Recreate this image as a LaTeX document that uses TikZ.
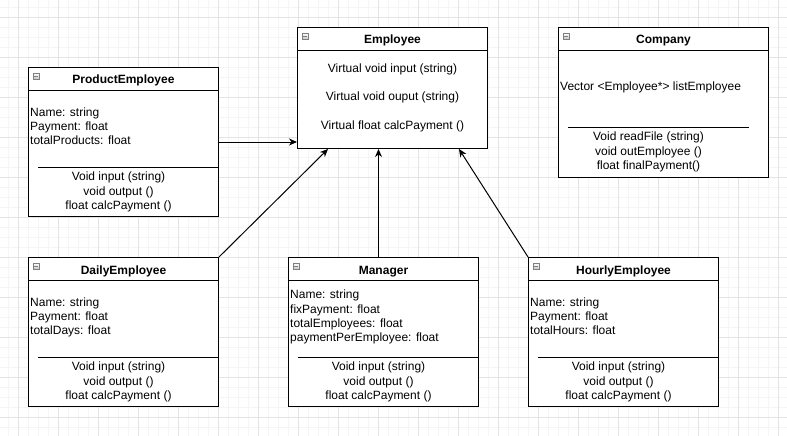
\documentclass[tikz,border=0pt]{standalone}
\usepackage{fontspec}
\setmainfont{Liberation Sans}
\usetikzlibrary{arrows.meta, positioning, calc}
\definecolor{gridminor}{RGB}{245,245,245}
\definecolor{gridmajor}{RGB}{228,228,228}
\definecolor{iconfill}{RGB}{200,200,200}

\begin{document}
\begin{tikzpicture}[
      x=1pt, y=-1pt,
      font=\fontsize{12}{14}\selectfont,
      classbox/.style={draw, line width=1pt, fill=white, anchor=north west,
        inner sep=0, minimum width=190pt, minimum height=149pt},
      classtitle/.style={font=\fontsize{12}{14}\selectfont\bfseries, inner sep=0,
        text height=9pt, text depth=3pt},
      member/.style={anchor=west, inner sep=0, text height=8pt, text depth=3pt},
      method/.style={inner sep=0, text height=8pt, text depth=3pt},
      minusicon/.style={draw=gray, line width=0.5pt, top color=white, bottom color=iconfill,
        minimum size=6pt, inner sep=0,
        path picture={\draw[line width=0.7pt] ([xshift=1.2pt]path picture bounding box.west)
          -- ([xshift=-1.2pt]path picture bounding box.east);}},
      rule/.style={line width=1pt},
      arrow/.style={-{Stealth[length=8pt, width=7pt, inset=2.5pt]}, line width=1pt}
    ]
      \useasboundingbox (0,0) rectangle (787,436);
      \fill[white] (0,0) rectangle (787,436);

      % Grid
      \foreach \gx in {8,18,...,787} \draw[gridminor, line width=0.6pt] (\gx,0) -- (\gx,436);
      \foreach \gy in {7,17,...,436} \draw[gridminor, line width=0.6pt] (0,\gy) -- (787,\gy);
      \foreach \gx in {18,58,...,787} \draw[gridmajor, line width=0.6pt] (\gx,0) -- (\gx,436);
      \foreach \gy in {17,57,...,436} \draw[gridmajor, line width=0.6pt] (0,\gy) -- (787,\gy);

      % Employee
      \node[classbox, minimum height=121pt] (employee) at (297,27) {};
      \node[minusicon] (employee-icon) at ([xshift=8pt, yshift=-9pt]employee.north west) {};
      \node[classtitle] (employee-title) at ([yshift=-14pt]employee.north) {Employee};
      \draw[rule] ([yshift=-24pt]employee.north west) -- ([yshift=-24pt]employee.north east);
      \node[method] (employee-m1) at ([yshift=-43pt]employee.north) {Virtual void input (string)};
      \node[method] (employee-m2) at ([yshift=-71pt]employee.north) {Virtual void ouput (string)};
      \node[method] (employee-m3) at ([yshift=-100pt]employee.north) {Virtual float calcPayment ()};

      % Company
      \node[classbox, minimum width=210pt, minimum height=150pt] (company) at (558,27) {};
      \node[minusicon] (company-icon) at ([xshift=8pt, yshift=-9pt]company.north west) {};
      \node[classtitle] (company-title) at ([yshift=-14pt]company.north) {Company};
      \draw[rule] ([yshift=-24pt]company.north west) -- ([yshift=-24pt]company.north east);
      \node[member] (company-a1) at ([xshift=2pt, yshift=-61pt]company.north west) {Vector <Employee*> listEmployee};
      \draw[rule] ([xshift=10pt, yshift=-100pt]company.north west) -- ([xshift=-20pt, yshift=-100pt]company.north east);
      \node[method] (company-m1) at ([xshift=-15pt, yshift=-111pt]company.north) {Void readFile (string)};
      \node[method] (company-m2) at ([xshift=-15pt, yshift=-126pt]company.north) {void outEmployee ()};
      \node[method] (company-m3) at ([xshift=-15pt, yshift=-140pt]company.north) {float finalPayment()};

      % ProductEmployee
      \node[classbox] (product) at (28,67) {};
      \node[minusicon] (product-icon) at ([xshift=8pt, yshift=-9pt]product.north west) {};
      \node[classtitle] (product-title) at ([yshift=-14pt]product.north) {ProductEmployee};
      \draw[rule] ([yshift=-23pt]product.north west) -- ([yshift=-23pt]product.north east);
      \node[member] (product-a1) at ([xshift=2pt, yshift=-47pt]product.north west) {Name: string};
      \node[member] (product-a2) at ([xshift=2pt, yshift=-61pt]product.north west) {Payment: float};
      \node[member] (product-a3) at ([xshift=2pt, yshift=-75pt]product.north west) {totalProducts: float};
      \draw[rule] ([xshift=10pt, yshift=-100pt]product.north west) -- ([yshift=-100pt]product.north east);
      \node[method] (product-m1) at ([xshift=-5pt, yshift=-111pt]product.north) {Void input (string)};
      \node[method] (product-m2) at ([xshift=-5pt, yshift=-126pt]product.north) {void output ()};
      \node[method] (product-m3) at ([xshift=-5pt, yshift=-140pt]product.north) {float calcPayment ()};

      % DailyEmployee
      \node[classbox] (daily) at (28,257) {};
      \node[minusicon] (daily-icon) at ([xshift=8pt, yshift=-9pt]daily.north west) {};
      \node[classtitle] (daily-title) at ([yshift=-14pt]daily.north) {DailyEmployee};
      \draw[rule] ([yshift=-23pt]daily.north west) -- ([yshift=-23pt]daily.north east);
      \node[member] (daily-a1) at ([xshift=2pt, yshift=-47pt]daily.north west) {Name: string};
      \node[member] (daily-a2) at ([xshift=2pt, yshift=-61pt]daily.north west) {Payment: float};
      \node[member] (daily-a3) at ([xshift=2pt, yshift=-75pt]daily.north west) {totalDays: float};
      \draw[rule] ([xshift=10pt, yshift=-100pt]daily.north west) -- ([yshift=-100pt]daily.north east);
      \node[method] (daily-m1) at ([xshift=-5pt, yshift=-111pt]daily.north) {Void input (string)};
      \node[method] (daily-m2) at ([xshift=-5pt, yshift=-126pt]daily.north) {void output ()};
      \node[method] (daily-m3) at ([xshift=-5pt, yshift=-140pt]daily.north) {float calcPayment ()};

      % Manager
      \node[classbox] (manager) at (288,257) {};
      \node[minusicon] (manager-icon) at ([xshift=8pt, yshift=-9pt]manager.north west) {};
      \node[classtitle] (manager-title) at ([yshift=-14pt]manager.north) {Manager};
      \draw[rule] ([yshift=-23pt]manager.north west) -- ([yshift=-23pt]manager.north east);
      \node[member] (manager-a1) at ([xshift=2pt, yshift=-39pt]manager.north west) {Name: string};
      \node[member] (manager-a2) at ([xshift=2pt, yshift=-54pt]manager.north west) {fixPayment: float};
      \node[member] (manager-a3) at ([xshift=2pt, yshift=-68pt]manager.north west) {totalEmployees: float};
      \node[member] (manager-a4) at ([xshift=2pt, yshift=-82pt]manager.north west) {paymentPerEmployee: float};
      \draw[rule] ([xshift=10pt, yshift=-100pt]manager.north west) -- ([yshift=-100pt]manager.north east);
      \node[method] (manager-m1) at ([xshift=-5pt, yshift=-111pt]manager.north) {Void input (string)};
      \node[method] (manager-m2) at ([xshift=-5pt, yshift=-126pt]manager.north) {void output ()};
      \node[method] (manager-m3) at ([xshift=-5pt, yshift=-140pt]manager.north) {float calcPayment ()};

      % HourlyEmployee
      \node[classbox] (hourly) at (528,257) {};
      \node[minusicon] (hourly-icon) at ([xshift=8pt, yshift=-9pt]hourly.north west) {};
      \node[classtitle] (hourly-title) at ([yshift=-14pt]hourly.north) {HourlyEmployee};
      \draw[rule] ([yshift=-23pt]hourly.north west) -- ([yshift=-23pt]hourly.north east);
      \node[member] (hourly-a1) at ([xshift=2pt, yshift=-47pt]hourly.north west) {Name: string};
      \node[member] (hourly-a2) at ([xshift=2pt, yshift=-61pt]hourly.north west) {Payment: float};
      \node[member] (hourly-a3) at ([xshift=2pt, yshift=-75pt]hourly.north west) {totalHours: float};
      \draw[rule] ([xshift=10pt, yshift=-100pt]hourly.north west) -- ([yshift=-100pt]hourly.north east);
      \node[method] (hourly-m1) at ([xshift=-5pt, yshift=-111pt]hourly.north) {Void input (string)};
      \node[method] (hourly-m2) at ([xshift=-5pt, yshift=-126pt]hourly.north) {void output ()};
      \node[method] (hourly-m3) at ([xshift=-5pt, yshift=-140pt]hourly.north) {float calcPayment ()};

      % Inheritance
      \draw[arrow] (product.east) -- (product.east -| employee.west);
      \draw[arrow] (daily.north east) -- ([xshift=31pt]employee.south west);
      \draw[arrow] ([xshift=-5pt]manager.north) -- ([xshift=-5pt]manager.north |- employee.south);
      \draw[arrow] (hourly.north west) -- ([xshift=-29pt]employee.south east);
    \end{tikzpicture}
\end{document}
